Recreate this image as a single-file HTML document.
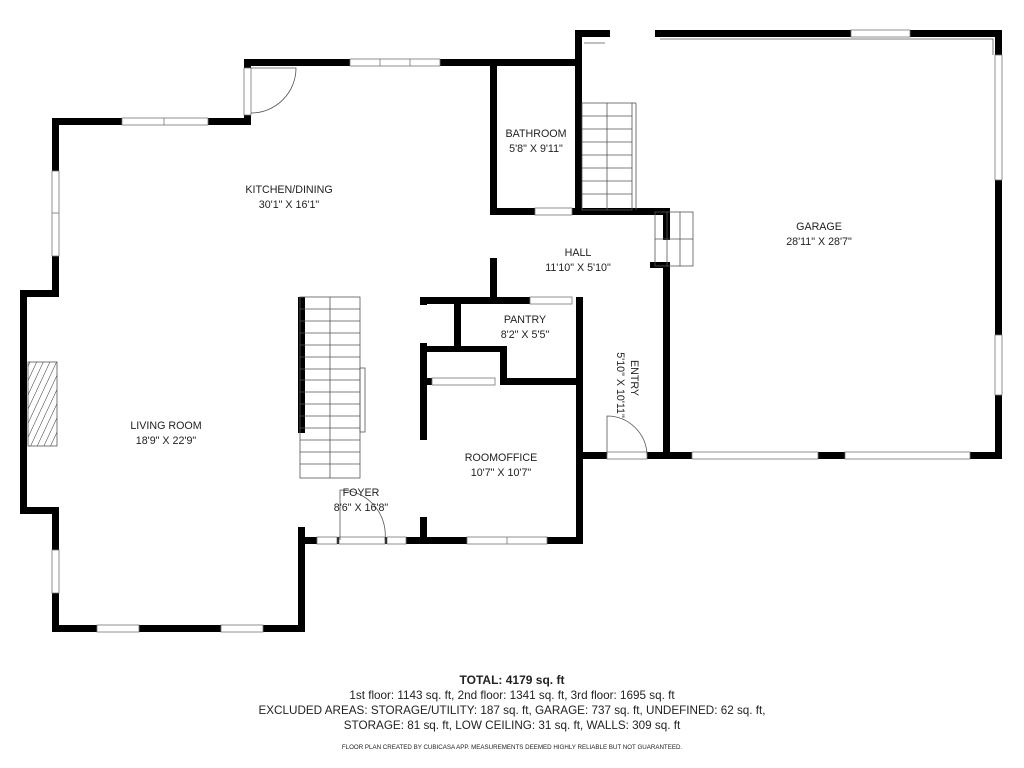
<!DOCTYPE html>
<html><head><style>
body{margin:0;background:#fff;width:1024px;height:768px;overflow:hidden}
svg{position:absolute;left:0;top:0}
text{font-family:"Liberation Sans",sans-serif;fill:#222}
</style></head><body>
<svg width="1024" height="768" viewBox="0 0 1024 768">
<defs>
<pattern id="h" width="6" height="6" patternUnits="userSpaceOnUse" patternTransform="rotate(25)"><line x1="0" y1="0" x2="0" y2="6" stroke="#333" stroke-width="1"/></pattern>
</defs>
<g fill="#000">
<rect x="245" y="59" width="335" height="7"/>
<rect x="244" y="59" width="7" height="66"/>
<rect x="52" y="118" width="199" height="7"/>
<rect x="52" y="118" width="7" height="179"/>
<rect x="20" y="290" width="39" height="7"/>
<rect x="20" y="290" width="7" height="224"/>
<rect x="20" y="507" width="39" height="7"/>
<rect x="52" y="507" width="7" height="125"/>
<rect x="52" y="625" width="253" height="7"/>
<rect x="298" y="527" width="7" height="105"/>
<rect x="298" y="537" width="285" height="7"/>
<rect x="576" y="297" width="7" height="247"/>
<rect x="576" y="452" width="426" height="7"/>
<rect x="995" y="30" width="7" height="429"/>
<rect x="575" y="30" width="35" height="7"/>
<rect x="655" y="30" width="347" height="7"/>
<rect x="575" y="30" width="7" height="182"/>
<rect x="490" y="62" width="7" height="152"/>
<rect x="490" y="208" width="180" height="7"/>
<rect x="490" y="258" width="7" height="42"/>
<rect x="663" y="208" width="7" height="32"/>
<rect x="663" y="262" width="7" height="197"/>
<rect x="650" y="262" width="20" height="6"/>
<rect x="420" y="297" width="110" height="7"/>
<rect x="454" y="297" width="7" height="53"/>
<rect x="420" y="346" width="85" height="6"/>
<rect x="500" y="346" width="7" height="38"/>
<rect x="500" y="378" width="80" height="7"/>
<rect x="420" y="297" width="7" height="8"/>
<rect x="420" y="343" width="7" height="97"/>
<rect x="420" y="517" width="7" height="27"/>
<rect x="420" y="378" width="12" height="7"/>
<rect x="298" y="297" width="7" height="136"/>
</g>
<g fill="#fff" stroke="#777" stroke-width="0.8">
<rect x="350" y="59" width="90" height="7"/><line x1="380" y1="59" x2="380" y2="66"/><line x1="410" y1="59" x2="410" y2="66"/>
<rect x="122" y="118" width="86" height="7"/><line x1="164" y1="118" x2="164" y2="125"/>
<rect x="244" y="68" width="7" height="47"/>
<rect x="52" y="171" width="7" height="85"/><line x1="52" y1="213" x2="59" y2="213"/>
<rect x="52" y="550" width="7" height="43"/>
<rect x="97" y="625" width="42" height="7"/><rect x="221" y="625" width="42" height="7"/>
<rect x="317" y="537" width="20" height="7"/><rect x="339" y="537" width="46" height="7"/><rect x="387" y="537" width="19" height="7"/>
<rect x="467" y="537" width="80" height="7"/><line x1="507" y1="537" x2="507" y2="544"/>
<rect x="607" y="452" width="40" height="7"/>
<rect x="692" y="452" width="126" height="7"/><rect x="845" y="452" width="125" height="7"/>
<rect x="995" y="55" width="7" height="125"/><rect x="995" y="335" width="7" height="60"/>
<rect x="851" y="30" width="59" height="7"/>
<rect x="535" y="208" width="37" height="7"/>
<rect x="530" y="297" width="42" height="7"/>
<rect x="432" y="378" width="63" height="7"/>
</g>
<g fill="none" stroke="#555" stroke-width="0.8">
<polyline points="660,39 993,39 993,55"/>
<polyline points="584,43 605,43"/>
<path d="M251 68 L296 68 A45 45 0 0 1 251 113"/>
<path d="M607 455 L607 416 A40 40 0 0 1 647 455"/>
<path d="M340 540 L340 490 A45 45 0 0 1 385 540"/>
<rect x="28" y="362" width="29" height="84" fill="url(#h)"/>
<rect x="300" y="297" width="60" height="181"/>
<line x1="330" y1="297" x2="330" y2="478"/>
<rect x="360" y="368" width="5" height="64"/>
<rect x="582" y="103" width="50" height="107"/><line x1="607" y1="103" x2="607" y2="210"/><line x1="632" y1="103" x2="636" y2="103"/><line x1="636" y1="103" x2="636" y2="210"/>
<rect x="655" y="212" width="38" height="54"/><line x1="667" y1="212" x2="667" y2="266"/><line x1="680" y1="212" x2="680" y2="266"/><line x1="655" y1="239" x2="693" y2="239"/>
</g>
<g stroke="#555" stroke-width="0.8">
<line x1="300" y1="309" x2="360" y2="309"/><line x1="300" y1="321" x2="360" y2="321"/><line x1="300" y1="333" x2="360" y2="333"/><line x1="300" y1="345" x2="360" y2="345"/><line x1="300" y1="357" x2="360" y2="357"/><line x1="300" y1="369" x2="360" y2="369"/><line x1="300" y1="380" x2="360" y2="380"/><line x1="300" y1="392" x2="360" y2="392"/><line x1="300" y1="404" x2="360" y2="404"/><line x1="300" y1="416" x2="360" y2="416"/><line x1="300" y1="428" x2="360" y2="428"/><line x1="300" y1="440" x2="360" y2="440"/><line x1="300" y1="452" x2="360" y2="452"/><line x1="300" y1="464" x2="360" y2="464"/>
<line x1="582" y1="116" x2="632" y2="116"/><line x1="582" y1="129" x2="632" y2="129"/><line x1="582" y1="142" x2="632" y2="142"/><line x1="582" y1="155" x2="632" y2="155"/><line x1="582" y1="168" x2="632" y2="168"/><line x1="582" y1="181" x2="632" y2="181"/><line x1="582" y1="194" x2="632" y2="194"/>
</g>
<g font-size="10.7" text-anchor="middle">
<text x="289" y="193">KITCHEN/DINING</text><text x="289" y="208">30'1" X 16'1"</text>
<text x="536" y="137">BATHROOM</text><text x="536" y="152">5'8" X 9'11"</text>
<text x="819" y="230">GARAGE</text><text x="819" y="245">28'11" X 28'7"</text>
<text x="578" y="256">HALL</text><text x="578" y="271">11'10" X 5'10"</text>
<text x="525" y="323">PANTRY</text><text x="525" y="338">8'2" X 5'5"</text>
<text x="166" y="429">LIVING ROOM</text><text x="166" y="444">18'9" X 22'9"</text>
<text x="501" y="461">ROOMOFFICE</text><text x="501" y="476">10'7" X 10'7"</text>
<text x="361" y="496">FOYER</text><text x="361" y="511">8'6" X 16'8"</text>
<text transform="translate(631,378) rotate(90)">ENTRY</text>
<text transform="translate(617,385) rotate(90)">5'10" X 10'11"</text>
</g>
<g font-size="11.7" text-anchor="middle">
<text x="512" y="684" font-weight="bold" font-size="12">TOTAL: 4179 sq. ft</text>
<text x="512" y="699">1st floor: 1143 sq. ft, 2nd floor: 1341 sq. ft, 3rd floor: 1695 sq. ft</text>
<text x="512" y="714">EXCLUDED AREAS: STORAGE/UTILITY: 187 sq. ft, GARAGE: 737 sq. ft, UNDEFINED: 62 sq. ft,</text>
<text x="512" y="729">STORAGE: 81 sq. ft, LOW CEILING: 31 sq. ft, WALLS: 309 sq. ft</text>
<text x="512" y="749" font-size="6.2">FLOOR PLAN CREATED BY CUBICASA APP. MEASUREMENTS DEEMED HIGHLY RELIABLE BUT NOT GUARANTEED.</text>
</g>
</svg>
</body></html>
